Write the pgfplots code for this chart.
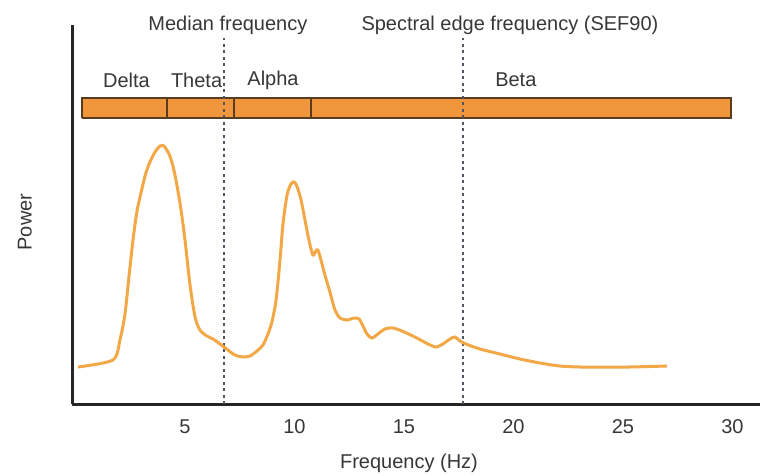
\documentclass[border=0pt]{standalone}
\usepackage{fontspec}
\setmainfont{Liberation Sans}
\usepackage{pgfplots}
\pgfplotsset{compat=1.18}

\definecolor{bandfill}{RGB}{240,150,60}
\definecolor{bandedge}{RGB}{90,60,35}
\definecolor{curve}{RGB}{242,168,70}
\definecolor{txt}{RGB}{55,55,55}
\definecolor{dashc}{RGB}{80,85,100}

\begin{document}
\begin{tikzpicture}
\useasboundingbox (0,0) rectangle (768pt,475pt);
\begin{axis}[
  at={(72pt,71pt)}, anchor=south west,
  scale only axis, width=688pt, height=379pt,
  xmin=-0.16, xmax=31.26, ymin=0, ymax=379,
  axis x line=bottom, axis y line=left,
  axis line style={-, line width=3pt, color=black!85},
  xtick={5,10,...,30}, ytick=\empty,
  major tick length=0pt,
  /pgf/number format/assume math mode=true,
  xticklabel style={anchor=center, yshift=-23pt, text=txt, font=\fontsize{20}{24}\selectfont},
  clip=false,
]
% frequency bands
\addplot[draw=bandedge, line width=1.5pt, fill=bandfill] coordinates {(0.3,286) (4.18,286) (4.18,306) (0.3,306) (0.3,286)};
\addplot[draw=bandedge, line width=1.5pt, fill=bandfill] coordinates {(4.18,286) (7.24,286) (7.24,306) (4.18,306) (4.18,286)};
\addplot[draw=bandedge, line width=1.5pt, fill=bandfill] coordinates {(7.24,286) (10.75,286) (10.75,306) (7.24,306) (7.24,286)};
\addplot[draw=bandedge, line width=1.5pt, fill=bandfill] coordinates {(10.75,286) (29.93,286) (29.93,306) (10.75,306) (10.75,286)};

% median / SEF90 markers
\addplot[dashc, line width=1.2pt, dash pattern=on 3pt off 3.5pt] coordinates {(6.78,0) (6.78,366)};
\addplot[dashc, line width=1.2pt, dash pattern=on 3pt off 3.5pt] coordinates {(17.7,0) (17.7,366)};

% power spectrum
\addplot[curve, line width=3pt, smooth, tension=0.45] coordinates {
(0.11,37) (1.71,44) (2.03,64) (2.26,90) (2.44,127) (2.63,165) (2.81,193)
(3.00,212) (3.20,230) (3.40,242) (3.63,252) (3.86,258) (4.04,258) (4.27,250)
(4.45,238) (4.63,219) (4.82,194) (5.00,164) (5.23,119) (5.46,87) (5.68,74)
(6.00,68) (6.28,65) (6.60,60) (6.96,54) (7.28,49) (7.65,47) (7.97,48)
(8.29,53) (8.56,59) (8.79,70) (8.97,82) (9.16,104) (9.34,144) (9.47,179)
(9.66,209) (9.84,220) (9.98,222) (10.11,218) (10.30,204) (10.48,184)
(10.66,164) (10.84,149) (10.98,153) (11.07,154) (11.21,144) (11.39,129)
(11.62,112) (11.85,94) (12.08,86) (12.40,84) (12.72,86) (12.95,85)
(13.13,78) (13.31,70) (13.54,66) (13.81,70) (14.13,75) (14.50,76)
(14.91,73) (15.50,67) (16.10,60) (16.46,57) (16.78,60) (17.10,65)
(17.33,67) (17.56,63) (17.83,60) (18.47,55) (19.38,50) (20.30,45)
(21.21,41) (22.12,38) (23.04,37) (23.95,37) (25.32,37) (27.01,38)
};

% texts
\begin{scope}[every node/.style={text=txt, font=\fontsize{20}{24}\selectfont}]
\node at (axis cs:6.96,379) {Median frequency};
\node at (axis cs:19.84,379) {Spectral edge frequency (SEF90)};
\node at (axis cs:2.33,324) {Delta};
\node at (axis cs:5.53,324) {Theta};
\node at (axis cs:9.02,324) {Alpha};
\node at (axis cs:20.11,324) {Beta};
\node at (axis cs:15.23,-59) {Frequency (Hz)};
\node[rotate=90] at (axis cs:-2.31,182) {Power};
\end{scope}
\end{axis}
\end{tikzpicture}
\end{document}
